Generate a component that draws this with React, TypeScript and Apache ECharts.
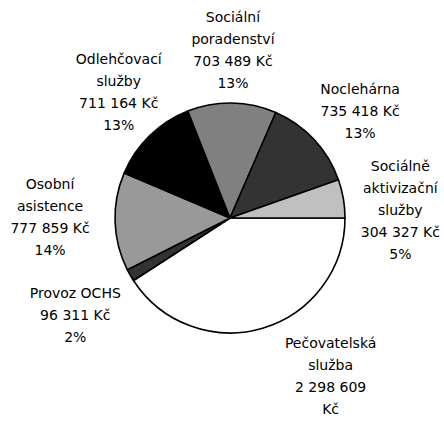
import React, { useEffect, useRef } from "react";
import * as echarts from "echarts";

const categories = [
  "Pečovatelská služba",
  "Provoz OCHS",
  "Osobní asistence",
  "Odlehčovací služby",
  "Sociální poradenství",
  "Noclehárna",
  "Sociálně aktivizační služby",
];
const values = [2298609, 96311, 777859, 711164, 703489, 735418, 304327];
const currency = "Kč";

// label wrapping (how the reference breaks the label text into lines)
const nameLines = [
  ["Pečovatelská", "služba"],
  ["Provoz OCHS"],
  ["Osobní", "asistence"],
  ["Odlehčovací", "služby"],
  ["Sociální", "poradenství"],
  ["Noclehárna"],
  ["Sociálně", "aktivizační", "služby"],
];
const valueWrapped = [true, false, false, false, false, false, false];

// styling
const colors = ["#ffffff", "#333333", "#999999", "#000000", "#808080", "#333333", "#c0c0c0"];
const CX = 230;
const CY = 218;
const R = 115;
const FONT = "DejaVu Sans";
// label centre offsets from the slice's bisector point on the rim
const labelNudge: [number, number][] = [
  [68, 59],
  [-55, 40],
  [-65, -5],
  [-31, -44],
  [1, -53],
  [46, -29],
  [57, 11],
];

function fmt(v: number) {
  return String(v).replace(/\B(?=(\d{3})+(?!\d))/g, " ");
}

export default function App() {
  const ref = useRef<HTMLDivElement>(null);
  useEffect(() => {
    document.body.style.margin = "0";
    const chart = echarts.init(ref.current!, null, { renderer: "svg" });
    const total = values.reduce((a, b) => a + b, 0);
    const mids: number[] = [];
    let acc = 0;
    values.forEach((v) => {
      const a0 = (acc / total) * Math.PI * 2;
      acc += v;
      const a1 = (acc / total) * Math.PI * 2;
      mids.push((a0 + a1) / 2);
    });
    chart.setOption({
      animation: false,
      backgroundColor: "#ffffff",
      textStyle: { fontFamily: FONT },
      series: [
        {
          type: "pie",
          center: [CX, CY],
          radius: R,
          startAngle: 0,
          clockwise: true,
          avoidLabelOverlap: false,
          data: categories.map((name, i) => ({
            name,
            value: values[i],
            itemStyle: { color: colors[i] },
          })),
          itemStyle: { borderColor: "#000000", borderWidth: 1.6 },
          label: {
            show: true,
            position: "outside",
            color: "#000000",
            fontFamily: FONT,
            fontSize: 14,
            lineHeight: 22,
            align: "center",
            formatter: (p: any) => {
              const i = p.dataIndex;
              const valueText = fmt(p.value) + (valueWrapped[i] ? "\n" : " ") + currency;
              return [...nameLines[i], valueText, Math.round(p.percent) + "%"].join("\n");
            },
          },
          labelLine: { show: false },
          labelLayout: (params: any) => {
            const i = params.dataIndex;
            const a = mids[i];
            return {
              x: CX + R * Math.cos(a) + labelNudge[i][0],
              y: CY + R * Math.sin(a) + labelNudge[i][1],
              align: "center",
              verticalAlign: "middle",
            };
          },
          emphasis: { disabled: true },
        },
      ],
    });
    return () => chart.dispose();
  }, []);
  return <div ref={ref} style={{ width: 444, height: 426 }} />;
}
